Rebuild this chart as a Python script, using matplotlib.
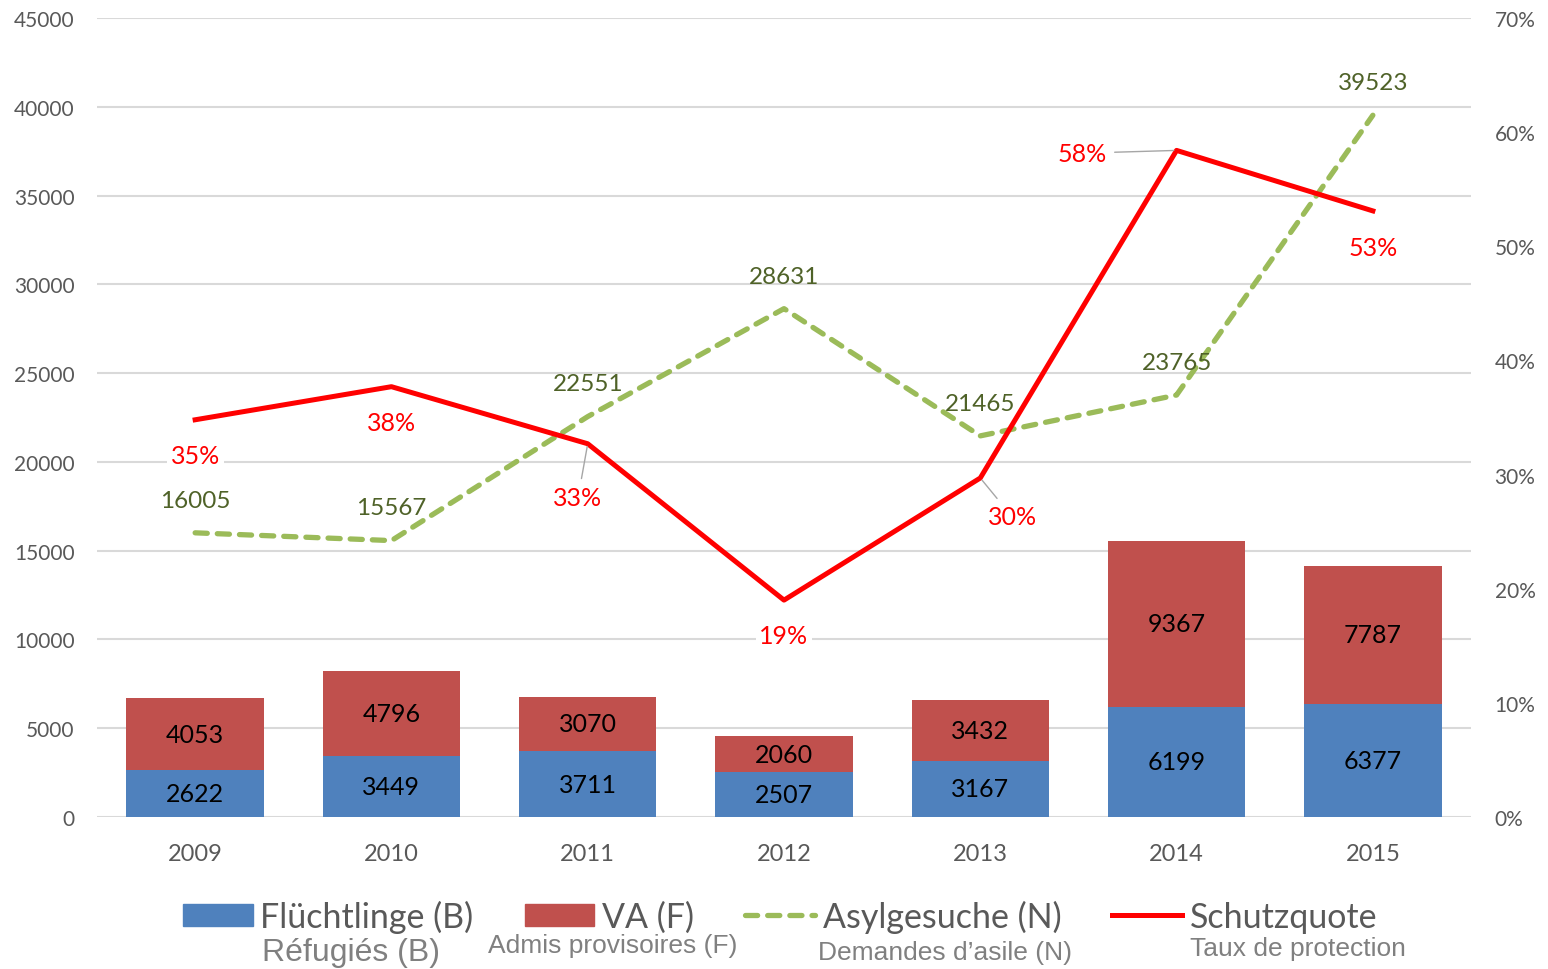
import matplotlib.pyplot as plt
from matplotlib.lines import Line2D
from matplotlib.patches import Patch

years = ['2009', '2010', '2011', '2012', '2013', '2014', '2015']
refugees = [2622, 3449, 3711, 2507, 3167, 6199, 6377]
provisional = [4053, 4796, 3070, 2060, 3432, 9367, 7787]
applications = [16005, 15567, 22551, 28631, 21465, 23765, 39523]
protection = [0.348, 0.377, 0.327, 0.190, 0.297, 0.584, 0.531]
protection_labels = ['35%', '38%', '33%', '19%', '30%', '58%', '53%']

plt.rcParams['font.family'] = ['Lato', 'DejaVu Sans']

blue = '#4F81BD'
red_bar = '#C0504D'
green = '#9BBB59'
green_text = '#4F6228'
tick_col = '#595959'

fig = plt.figure(figsize=(15.48, 9.7), dpi=100)
ax = fig.add_axes([97 / 1548, 152 / 970, 1374 / 1548, 799 / 970])
x = list(range(len(years)))

b1 = ax.bar(x, refugees, width=0.7, color=blue, zorder=2)
b2 = ax.bar(x, provisional, width=0.7, bottom=refugees, color=red_bar, zorder=2)
ax.bar_label(b1, labels=[str(v) for v in refugees], label_type='center',
             fontsize=18, color='black')
ax.bar_label(b2, labels=[str(v) for v in provisional], label_type='center',
             fontsize=18, color='black')

ln_green, = ax.plot(x, applications, color=green, lw=3.8, dashes=(2.3, 1.9),
                    dash_capstyle='round', zorder=3)
for i, v in enumerate(applications):
    ax.annotate(str(v), (i, v), xytext=(0, 23.5), textcoords='offset points',
                ha='center', va='center', fontsize=17.5, color=green_text, zorder=4)

ax.set_xlim(-0.5, 6.5)
ax.set_ylim(0, 45000)
ax.set_yticks(range(0, 45001, 5000))
ax.set_xticks(x)
ax.set_xticklabels(years)
ax.grid(axis='y', color='#D9D9D9', lw=1.5, zorder=0)
ax.set_axisbelow(True)
ax.tick_params(axis='y', length=0, pad=16, labelsize=15, labelcolor=tick_col)
ax.tick_params(axis='x', length=0, pad=19, labelsize=17, labelcolor=tick_col)
for s in ax.spines.values():
    s.set_visible(False)

ax2 = ax.twinx()
ln_red, = ax2.plot(x, protection, color='#FF0000', lw=3.6, zorder=5)
ax2.set_ylim(0, 0.7)
ax2.set_yticks([i / 10 for i in range(8)])
ax2.set_yticklabels([f'{i * 10}%' for i in range(8)])
ax2.tick_params(axis='y', length=0, pad=17, labelsize=15, labelcolor=tick_col)
for s in ax2.spines.values():
    s.set_visible(False)

offsets = [(0, -26), (0, -25.5), (-7, -39), (0, -25.5), (23, -28), (-68, -2), (0, -26)]
leader = [False, False, True, False, True, True, False]
for i, v in enumerate(protection):
    kw = {}
    if leader[i]:
        kw['arrowprops'] = dict(arrowstyle='-', color='#A6A6A6', lw=1,
                                shrinkA=3, shrinkB=2)
    ax2.annotate(protection_labels[i], (i, v), xytext=offsets[i],
                 textcoords='offset points', ha='center', va='center',
                 fontsize=18, color='#FF0000',
                 bbox=dict(boxstyle='square,pad=0.15', fc='white', ec='none'),
                 zorder=6, **kw)

handles = [Patch(color=blue), Patch(color=red_bar),
           Line2D([], [], color=green, lw=3.8, dashes=(2.3, 1.9), dash_capstyle='round'),
           Line2D([], [], color='#FF0000', lw=3.6)]
names = ['Flüchtlinge (B)', 'VA (F)', 'Asylgesuche (N)', 'Schutzquote']
leg = fig.legend(handles, names, loc='center', bbox_to_anchor=(0.504, 0.0545),
                 ncol=4, frameon=False, fontsize=24.5, handlelength=2.05,
                 handleheight=0.6, handletextpad=0.23, columnspacing=1.5)
for t in leg.get_texts():
    t.set_color(tick_col)

sub = [('Réfugiés (B)', 262, 953, 23), ('Admis provisoires (F)', 488, 946, 19),
       ('Demandes d’asile (N)', 818, 953, 19), ('Taux de protection', 1190, 949, 19)]
for txt, px, py, fs in sub:
    fig.text(px / 1548, 1 - py / 970, txt, ha='left', va='center', fontsize=fs,
             color='#808080', family='Liberation Sans')

fig.savefig('out.png', dpi=100)
